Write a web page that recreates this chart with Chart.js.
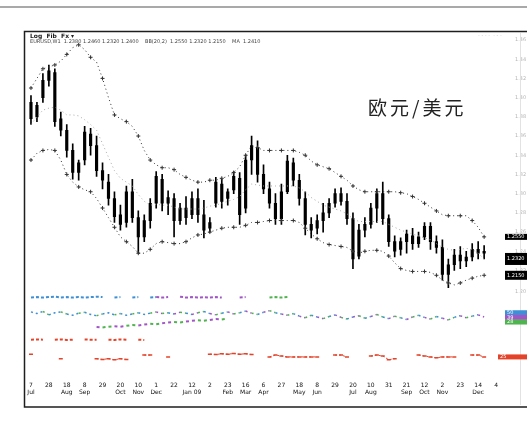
<!DOCTYPE html>
<html><head><meta charset="utf-8">
<script src="https://cdn.jsdelivr.net/npm/chart.js@4/dist/chart.umd.min.js"></script>
<style>
html,body{margin:0;padding:0;background:#fff;overflow:hidden}
#wrap{position:relative;width:527px;height:428px}
#title{position:absolute;left:368px;top:93px;font:19px "Noto Sans CJK SC";color:#222;letter-spacing:3px;white-space:nowrap}
</style></head><body>
<div id="wrap"><canvas id="c" width="527" height="428"></canvas><div id="title">欧元/美元</div></div>
<script>
// ---- data ----
const opens  = [1.395,1.380,1.400,1.418,1.426,1.378,1.366,1.345,1.322,1.335,1.362,1.350,1.324,1.312,1.295,1.278,1.270,1.302,1.275,1.255,1.272,1.290,1.315,1.290,1.295,1.272,1.285,1.278,1.295,1.278,1.264,1.290,1.310,1.295,1.304,1.316,1.285,1.335,1.348,1.320,1.305,1.290,1.274,1.302,1.332,1.314,1.295,1.268,1.264,1.272,1.280,1.290,1.300,1.292,1.274,1.235,1.262,1.268,1.285,1.300,1.274,1.250,1.242,1.250,1.256,1.248,1.255,1.266,1.250,1.244,1.216,1.226,1.236,1.230,1.234,1.242,1.238];
const highs  = [1.402,1.395,1.425,1.434,1.430,1.385,1.372,1.352,1.335,1.370,1.368,1.360,1.332,1.320,1.302,1.288,1.308,1.315,1.282,1.278,1.295,1.323,1.320,1.303,1.300,1.290,1.297,1.302,1.305,1.293,1.275,1.317,1.315,1.305,1.323,1.322,1.340,1.360,1.355,1.330,1.312,1.300,1.310,1.340,1.337,1.320,1.302,1.275,1.278,1.290,1.295,1.305,1.306,1.300,1.280,1.268,1.275,1.290,1.305,1.312,1.278,1.256,1.254,1.262,1.264,1.260,1.270,1.270,1.256,1.252,1.232,1.242,1.245,1.240,1.248,1.250,1.246];
const lows   = [1.372,1.375,1.395,1.412,1.370,1.360,1.338,1.315,1.314,1.330,1.340,1.318,1.305,1.288,1.270,1.262,1.265,1.270,1.238,1.250,1.264,1.285,1.282,1.278,1.255,1.268,1.268,1.274,1.270,1.254,1.260,1.286,1.285,1.288,1.300,1.268,1.280,1.320,1.312,1.300,1.285,1.268,1.268,1.300,1.308,1.288,1.257,1.254,1.258,1.260,1.275,1.286,1.288,1.268,1.222,1.232,1.255,1.264,1.270,1.268,1.245,1.234,1.236,1.238,1.242,1.244,1.252,1.242,1.238,1.210,1.202,1.220,1.222,1.224,1.230,1.232,1.232];
const closes = [1.378,1.392,1.418,1.428,1.375,1.366,1.345,1.322,1.332,1.364,1.350,1.324,1.314,1.295,1.276,1.268,1.302,1.275,1.255,1.272,1.290,1.318,1.290,1.296,1.272,1.285,1.275,1.295,1.278,1.262,1.270,1.312,1.292,1.302,1.318,1.278,1.335,1.350,1.320,1.305,1.290,1.274,1.302,1.334,1.314,1.295,1.268,1.262,1.272,1.280,1.290,1.300,1.292,1.274,1.232,1.262,1.268,1.285,1.300,1.274,1.250,1.240,1.250,1.258,1.248,1.255,1.266,1.250,1.244,1.216,1.226,1.236,1.230,1.234,1.242,1.238,1.240];
const bbUpper  = [1.410,1.420,1.430,1.432,1.434,1.438,1.445,1.452,1.455,1.450,1.442,1.437,1.420,1.400,1.382,1.378,1.375,1.370,1.360,1.345,1.335,1.330,1.327,1.327,1.325,1.320,1.317,1.314,1.312,1.312,1.314,1.314,1.316,1.318,1.322,1.328,1.340,1.350,1.348,1.345,1.345,1.345,1.345,1.345,1.345,1.343,1.340,1.334,1.330,1.328,1.326,1.322,1.318,1.314,1.308,1.304,1.302,1.302,1.302,1.302,1.302,1.302,1.301,1.300,1.297,1.294,1.290,1.286,1.282,1.278,1.277,1.277,1.277,1.277,1.272,1.265,1.255];
const bbMiddle = [1.372,1.380,1.387,1.389,1.390,1.387,1.382,1.382,1.381,1.377,1.372,1.366,1.352,1.338,1.324,1.316,1.312,1.308,1.299,1.292,1.288,1.289,1.288,1.288,1.286,1.284,1.284,1.284,1.284,1.285,1.287,1.288,1.290,1.292,1.294,1.297,1.304,1.310,1.309,1.308,1.308,1.308,1.308,1.308,1.308,1.306,1.302,1.296,1.292,1.288,1.286,1.284,1.282,1.279,1.274,1.271,1.271,1.271,1.271,1.271,1.268,1.265,1.262,1.260,1.258,1.256,1.254,1.252,1.248,1.244,1.242,1.241,1.242,1.243,1.242,1.238,1.232];
const bbLower  = [1.335,1.342,1.345,1.346,1.345,1.335,1.320,1.312,1.307,1.304,1.302,1.295,1.285,1.275,1.265,1.255,1.250,1.245,1.238,1.238,1.242,1.248,1.250,1.249,1.248,1.248,1.250,1.254,1.257,1.258,1.260,1.262,1.264,1.265,1.265,1.265,1.267,1.270,1.270,1.271,1.272,1.272,1.272,1.272,1.272,1.270,1.264,1.258,1.253,1.249,1.247,1.246,1.245,1.244,1.240,1.238,1.240,1.241,1.241,1.240,1.235,1.228,1.222,1.220,1.219,1.219,1.219,1.218,1.215,1.210,1.207,1.205,1.207,1.210,1.212,1.214,1.215];
const osc1 = [86,87,86,87,88,86,87,86,87,86,87,88,87,null,86,87,null,86,87,null,86,87,86,87,null,88,86,87,86,87,86,87,86,null,null,86,87,null,86,null,86,87,86,87];
const osc2 = [52,48,53,45,50,52,47,44,49,51,46,43,47,50,45,48,44,47,50,46,49,
              52,48,50,47,51,49,46,50,53,48,45,49,52,47,50,54,49,46,51,55,50,47,44,48,
              42,38,44,40,36,41,45,39,35,40,43,37,41,46,40,36,42,38,34,40,44,39,35,41,37,33,39,43,38,42,45,40];
const osc3 = [null,null,null,null,null,null,null,null,null,null,null,16,15,17,18,17,19,21,20,22,24,23,25,27,28,27,29,31,32,31,33,35,34,36];
const red1 = [81,82,81,null,81,82,80,81,null,82,81,81,null,81,80,82,81,null,81,80];
const red2 = [34,null,null,null,null,19,null,null,null,null,null,19,17,19,16,19,17,null,null,31,31,null,null,25,null,null,null,null,null,null,34,33,35,34,36,34,35,33,null,null,25,31,28,25,25,25,25,25,25,null,null,31,31,25,null,null,null,28,31,28,16,19,null,null,null,31,28,25,22,25,25,25,null,null,31,31,25];
const panelTags = [50,39,28];
const tickTop = ['7','28','18','8','29','20','10','1','22','12','2','23','16','6','27','18','8','29','20','10','31','21','12','2','23','14','4'];
const tickBottom = ['Jul','','Aug','Sep','','Oct','Nov','Dec','','Jan 09','','Feb','Mar','Apr','','May','Jun','','Jul','Aug','','Sep','Oct','Nov','','Dec',''];
const nCats = 80;
const categories = Array.from({length:nCats},(_,i)=>i);

// ---- styles ----
const BLUE='#3d8fd6', PURPLE='#a155c6', GREEN='#4fb34f', RED='#e4432a';
const c1 = i => i<21?BLUE:(i<39?PURPLE:GREEN);
const c2 = i => i<21?(i%3===2?GREEN:BLUE):([PURPLE,GREEN,BLUE][i%3]);

const decor = {
  id:'decor',
  beforeDraw(chart){
    const ctx=chart.ctx; ctx.save(); ctx.fillStyle='#fff'; ctx.fillRect(0,0,chart.width,chart.height); ctx.restore();
  },
  afterDraw(chart){
    const ctx=chart.ctx; ctx.save();
    ctx.strokeStyle='#8c8c8c'; ctx.lineWidth=1.5;
    ctx.beginPath(); ctx.moveTo(0,7); ctx.lineTo(527,7); ctx.stroke();
    ctx.strokeStyle='#1e1e1e'; ctx.lineWidth=1.5;
    ctx.beginPath(); ctx.moveTo(527,31.5); ctx.lineTo(24.5,31.5); ctx.lineTo(24.5,407); ctx.lineTo(527,407); ctx.stroke();
    ctx.strokeStyle='#e2e2e2'; ctx.lineWidth=1;
    ctx.beginPath(); ctx.moveTo(520.5,33); ctx.lineTo(520.5,405); ctx.stroke();
    ctx.fillStyle='#222'; ctx.font='bold 6px "DejaVu Sans"'; ctx.textBaseline='middle';
    ctx.fillText('Log  Fib  Fx ▾',30,36);
    ctx.font='5px "DejaVu Sans"'; ctx.fillStyle='#444';
    ctx.fillText('EURUSD,W1  1.2380 1.2460 1.2320 1.2400    BB(20,2)  1.2550 1.2320 1.2150    MA  1.2410',30,42);
    ctx.fillStyle='#bbb'; ctx.fillText('- - - -  - - -',478,36);
    const y=chart.scales.y, y2=chart.scales.y2, y3=chart.scales.y3;
    const last = a => a[a.length-1];
    const tag=(py,h,bg,txt,x0)=>{
      ctx.fillStyle=bg; ctx.fillRect(x0,py-h/2,527-x0,h);
      ctx.fillStyle='#fff'; ctx.font='5px "DejaVu Sans"'; ctx.fillText(txt,x0+2,py);
    };
    tag(y.getPixelForValue(last(bbUpper)),6,'#000',last(bbUpper).toFixed(4),505);
    tag(y.getPixelForValue(last(bbMiddle)),12,'#000',last(bbMiddle).toFixed(4),505);
    tag(y.getPixelForValue(last(bbLower)),9,'#000',last(bbLower).toFixed(4),505);
    [BLUE,PURPLE,GREEN].forEach((col,k)=>tag(y2.getPixelForValue(panelTags[k]),5,col,String(panelTags[k]),505));
    tag(y3.getPixelForValue(last(red2)),5,RED,String(last(red2)),498);
    ctx.restore();
  }
};

const bandStyle = (col)=>({type:'line',yAxisID:'y',borderColor:col,borderWidth:1,borderDash:[1,3],
  pointStyle:'cross',pointRadius:c=>c.dataIndex%2===0?2:0,pointBorderColor:col,pointBorderWidth:1,fill:false,tension:0,order:1});

new Chart(document.getElementById('c'),{
  type:'bar',
  data:{labels:categories,datasets:[
    {type:'bar',yAxisID:'y',data:highs.map((h,i)=>[lows[i],h]),backgroundColor:'#000',barThickness:1,grouped:false,order:3},
    {type:'bar',yAxisID:'y',data:opens.map((o,i)=>[o,closes[i]]),backgroundColor:'#000',barThickness:2.5,minBarLength:1,grouped:false,order:2},
    Object.assign(bandStyle('#333'),{data:bbUpper}),
    Object.assign(bandStyle('#aaa'),{data:bbMiddle,pointRadius:0}),
    Object.assign(bandStyle('#333'),{data:bbLower}),
    {type:'line',yAxisID:'y2',data:osc1,borderWidth:2,borderDash:[3,2],segment:{borderColor:c=>c1(c.p0DataIndex)},borderColor:BLUE,pointRadius:0,spanGaps:false},
    {type:'line',yAxisID:'y2',data:osc2,borderWidth:1.5,borderDash:[2,3],segment:{borderColor:c=>c2(c.p0DataIndex)},borderColor:BLUE,pointRadius:0},
    {type:'line',yAxisID:'y2',data:osc3,borderWidth:2,borderDash:[3,3],segment:{borderColor:c=>c.p0DataIndex%4<2?GREEN:PURPLE},borderColor:GREEN,pointRadius:0},
    {type:'line',yAxisID:'y3',data:red1,borderWidth:2,borderDash:[3,2],borderColor:RED,pointRadius:0,spanGaps:false},
    {type:'line',yAxisID:'y3',data:red2,borderWidth:1,borderDash:[2,2],borderColor:RED,pointStyle:'line',pointRadius:2,pointBorderColor:RED,pointBorderWidth:1.5,spanGaps:false}
  ]},
  options:{
    responsive:false,animation:false,
    layout:{padding:{left:28,top:40,right:0,bottom:23}},
    plugins:{legend:{display:false},tooltip:{enabled:false}},
    scales:{
      x:{type:'category',offset:true,grid:{display:false},border:{display:false},
         ticks:{autoSkip:false,maxRotation:0,minRotation:0,padding:9,color:'#111',font:{size:6,family:'DejaVu Sans'},
           callback:(v,i)=> i%3===0 ? [tickTop[i/3]||'', tickBottom[i/3]||''] : ''}},
      y:{position:'right',stack:'panes',stackWeight:262,min:1.198,max:1.46,grid:{display:false},border:{display:false},
         ticks:{stepSize:0.02,color:'#b5b5b5',font:{size:5,family:'DejaVu Sans'},padding:2,callback:v=>v.toFixed(2)},
         afterFit:s=>{s.width=22;}},
      y2:{position:'right',stack:'panes',stackWeight:44,min:0,max:100,grid:{display:false},border:{display:false},
         ticks:{display:false},afterFit:s=>{s.width=22;}},
      y3:{position:'right',stack:'panes',stackWeight:32,min:0,max:100,grid:{display:false},border:{display:false},
         ticks:{display:false},afterFit:s=>{s.width=22;}}
    }
  },
  plugins:[decor]
});
</script>
</body></html>
